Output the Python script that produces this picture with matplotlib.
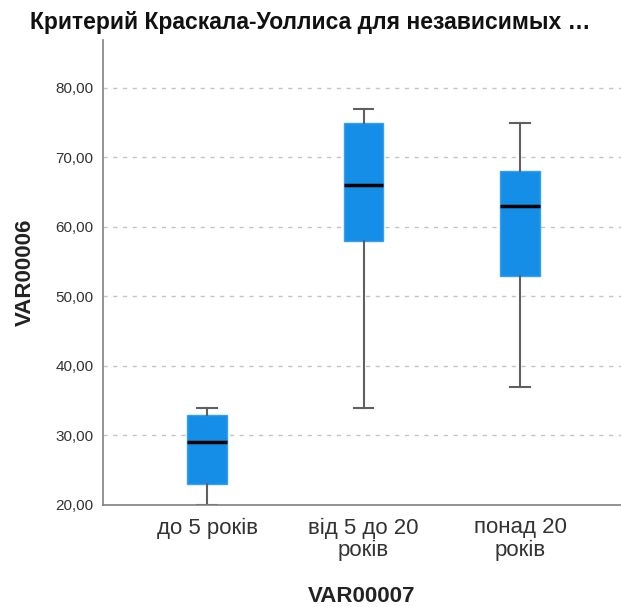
import matplotlib.pyplot as plt

plt.rcParams['font.family'] = ['Liberation Sans', 'DejaVu Sans']

# групи та п'ятичислові зведення (мін, Q1, медіана, Q3, макс)
groups = ['до 5 років', 'від 5 до 20\nроків', 'понад 20\nроків']
whislo = [20.0, 34.0, 37.0]
q1 = [23.0, 58.0, 53.0]
med = [29.0, 66.0, 63.0]
q3 = [33.0, 75.0, 68.0]
whishi = [34.0, 77.0, 75.0]
yticks = [20, 30, 40, 50, 60, 70, 80]

stats = []
for i in range(len(groups)):
    stats.append({'whislo': whislo[i], 'q1': q1[i], 'med': med[i],
                  'q3': q3[i], 'whishi': whishi[i], 'fliers': []})

fig = plt.figure(figsize=(6.21, 6.07), dpi=100)
ax = fig.add_axes([103 / 621, 1 - 505 / 607, 1 - 103 / 621, (505 - 40) / 607])

ax.bxp(stats, positions=[1, 2, 3], widths=0.254, capwidths=0.126,
       patch_artist=True, showfliers=False,
       boxprops=dict(facecolor='#148ee6', edgecolor='#3aa0ee', linewidth=1),
       medianprops=dict(color='black', linewidth=2.5),
       whiskerprops=dict(color='#606060', linewidth=1.5),
       capprops=dict(color='#606060', linewidth=1.5))

ax.set_xlim(0.335, 3.645)
ax.set_ylim(20, 86.9)
ax.set_yticks(yticks)
ax.set_yticklabels([f'{v:.2f}'.replace('.', ',') for v in yticks],
                   fontsize=11, color='#333333')
ax.set_xticks([1, 2, 3])
ax.set_xticklabels(groups, fontsize=16, color='#333333', linespacing=1.1)
ax.tick_params(axis='both', length=0)
ax.tick_params(axis='y', pad=7)
ax.tick_params(axis='x', pad=9)

ax.yaxis.grid(True, linestyle=(0, (3, 4)), color='#c4c4c4', linewidth=1)
ax.set_axisbelow(True)
for s in ['top', 'right']:
    ax.spines[s].set_visible(False)
for s in ['left', 'bottom']:
    ax.spines[s].set_color('#808080')
    ax.spines[s].set_linewidth(1.2)

ax.set_ylabel('VAR00006', fontsize=16, fontweight='bold', color='#222222', labelpad=14)

# підпис осі X ставимо на полотно, щоб не виходив за нижній край
fig.text(362 / 621, 1 - 596 / 607, 'VAR00007', fontsize=16, fontweight='bold',
         ha='center', va='center', color='#222222')

fig.text(30 / 621, 1 - 22 / 607, 'Критерий Краскала-Уоллиса для независимых …',
         fontsize=16.5, fontweight='bold', ha='left', va='center', color='#111111')

fig.savefig('out.png', dpi=100)
